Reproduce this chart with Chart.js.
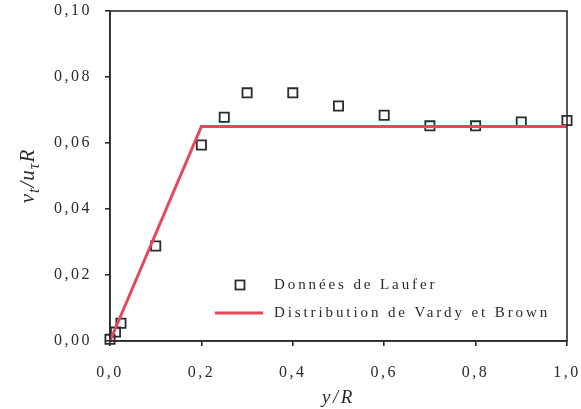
<!DOCTYPE html>
<html>
<head>
<meta charset="utf-8">
<script src="https://cdn.jsdelivr.net/npm/chart.js@4"></script>
<style>
  html, body { margin: 0; padding: 0; background: #fff; }
  #wrap { width: 581px; height: 409px; }
</style>
</head>
<body>
<div id="wrap"><canvas id="chart"></canvas></div>
<script>
// Données de Laufer
const lauferX = [0, 0.012, 0.024, 0.1, 0.2, 0.25, 0.3, 0.4, 0.5, 0.6, 0.7, 0.8, 0.9, 1.0];
const lauferY = [0.0005, 0.0027, 0.0054, 0.0288, 0.0594, 0.0678, 0.0752, 0.0752, 0.0712, 0.0684, 0.0652, 0.0652, 0.0664, 0.0668];
// Distribution de Vardy et Brown
const vardyX = [0, 0.2, 1.0];
const vardyY = [0, 0.065, 0.065];

const SERIF = '"Liberation Serif", "DejaVu Serif", serif';
const INK = '#2b2b2b';
const RED = '#e8475a';

const lauferPts = lauferX.map((x, i) => ({ x: x, y: lauferY[i] }));
const vardyPts = vardyX.map((x, i) => ({ x: x, y: vardyY[i] }));

function noOverhang(scale) {
    scale.paddingTop = 0;
    scale.paddingBottom = 0;
    scale.paddingLeft = 0;
    scale.paddingRight = 0;
}

// cadre, légende et titre de l'axe y
const extras = {
    id: 'extras',
    beforeDraw(chart) {
        chart.ctx.letterSpacing = '2.5px';
    },
    afterDraw(chart) {
        const ctx = chart.ctx;
        const a = chart.chartArea;
        ctx.save();
        ctx.letterSpacing = '0px';
        ctx.strokeStyle = INK;
        ctx.lineWidth = 1.6;
        ctx.strokeRect(a.left, a.top, a.right - a.left, a.bottom - a.top);

        // légende
        ctx.letterSpacing = '2.9px';
        ctx.font = '15px ' + SERIF;
        ctx.fillStyle = INK;
        ctx.textBaseline = 'middle';
        ctx.textAlign = 'left';
        ctx.lineWidth = 1.8;
        ctx.strokeStyle = INK;
        ctx.strokeRect(235.5, 280.5, 9, 9);
        ctx.fillText('Données de Laufer', 274, 285);
        ctx.strokeStyle = RED;
        ctx.lineWidth = 3;
        ctx.beginPath();
        ctx.moveTo(215, 313);
        ctx.lineTo(263, 313);
        ctx.stroke();
        ctx.fillText('Distribution de Vardy et Brown', 274, 313);

        // titre de l'axe y : νt/uτR
        ctx.letterSpacing = '1px';
        ctx.translate(28, (a.top + a.bottom) / 2);
        ctx.rotate(-Math.PI / 2);
        const big = 'italic 21px ' + SERIF;
        const small = 'italic 16px ' + SERIF;
        const parts = [
            ['ν', big, 0], ['t', small, 5], ['/u', big, 0], ['τ', small, 5], ['R', big, 0]
        ];
        let w = 0;
        parts.forEach(p => { ctx.font = p[1]; w += ctx.measureText(p[0]).width; });
        let x = -w / 2;
        ctx.textAlign = 'left';
        ctx.textBaseline = 'alphabetic';
        parts.forEach(p => {
            ctx.font = p[1];
            ctx.fillText(p[0], x, 6 + p[2]);
            x += ctx.measureText(p[0]).width;
        });
        ctx.restore();
    }
};

new Chart(document.getElementById('chart'), {
    type: 'scatter',
    data: {
        datasets: [
            {
                label: 'Distribution de Vardy et Brown',
                type: 'line',
                data: vardyPts,
                borderColor: RED,
                borderWidth: 3,
                pointRadius: 0,
                fill: false,
                tension: 0,
                clip: false
            },
            {
                label: 'Données de Laufer',
                data: lauferPts,
                pointStyle: 'rect',
                pointRadius: 6.5,
                pointBorderWidth: 1.8,
                pointBorderColor: INK,
                pointBackgroundColor: 'rgba(255,255,255,0)',
                clip: false
            }
        ]
    },
    options: {
        responsive: true,
        maintainAspectRatio: false,
        animation: false,
        layout: { padding: { top: 11, right: 14, left: 0, bottom: 0 } },
        plugins: {
            legend: { display: false },
            tooltip: { enabled: false }
        },
        scales: {
            x: {
                type: 'linear',
                min: 0,
                max: 1,
                afterFit(scale) { scale.height = 409 - 341; noOverhang(scale); },
                border: { display: true, color: INK, width: 1.6 },
                grid: { drawOnChartArea: false, drawTicks: true, tickLength: 5, color: INK, lineWidth: 1.6 },
                ticks: {
                    stepSize: 0.2,
                    padding: 17,
                    color: INK,
                    font: { family: SERIF, size: 16 },
                    maxRotation: 0,
                    callback: v => v.toFixed(1).replace('.', ',')
                },
                title: {
                    display: true,
                    text: 'y/R',
                    color: INK,
                    font: { family: SERIF, size: 19, style: 'italic' },
                    padding: { top: 0, bottom: 0 }
                }
            },
            y: {
                type: 'linear',
                min: 0,
                max: 0.1,
                afterFit(scale) { scale.width = 110; noOverhang(scale); },
                border: { display: true, color: INK, width: 1.6 },
                grid: { drawOnChartArea: false, drawTicks: true, tickLength: 5, color: INK, lineWidth: 1.6 },
                ticks: {
                    stepSize: 0.02,
                    padding: 13,
                    color: INK,
                    font: { family: SERIF, size: 16 },
                    callback: v => v.toFixed(2).replace('.', ',')
                }
            }
        }
    },
    plugins: [extras]
});
</script>
</body>
</html>
